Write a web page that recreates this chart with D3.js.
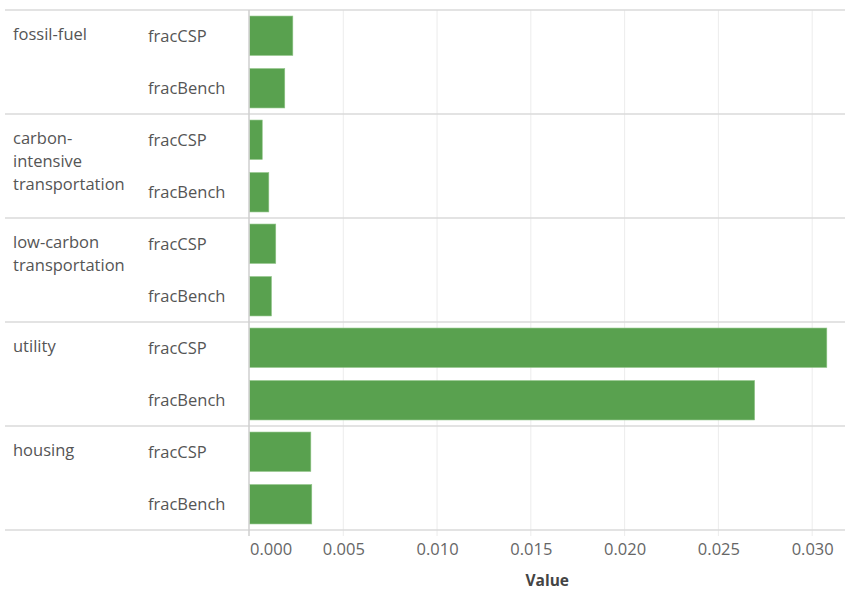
<!DOCTYPE html>
<html><head><meta charset="utf-8">
<script src="https://cdn.jsdelivr.net/npm/d3@7"></script>
<style>body{margin:0;background:#fff}svg{display:block}text{font-family:"Open Sans",sans-serif}</style>
</head><body><svg id="c" width="845" height="590"></svg>
<script>
const groups = ["fossil-fuel","carbon-intensive transportation","low-carbon transportation","utility","housing"];
const groupLines = [["fossil-fuel"],["carbon-","intensive","transportation"],["low-carbon","transportation"],["utility"],["housing"]];
const measures = ["fracCSP","fracBench"];
const fracCSP = [0.00231,0.00068,0.00140,0.03078,0.00327];
const fracBench = [0.00188,0.00103,0.00117,0.02693,0.00332];
const tickValues = [0,0.005,0.010,0.015,0.020,0.025,0.030];

(function(){
const svg = d3.select("#c");
const x0 = 249.5, x1 = 845, topY = 10, rowH = 104;
const x = d3.scaleLinear().domain([0,0.03175]).range([x0,x1]);
const rowScale = d3.scaleBand().domain(groups).range([topY, topY+rowH*groups.length]);
const y = d3.scaleBand().domain(measures).range([0,rowH]).paddingInner(0.25).paddingOuter(0.115);
const vals = {fracCSP, fracBench};

const gridTop = topY, gridBot = topY + rowH*groups.length;
svg.append("g").selectAll("line").data(tickValues.slice(1)).join("line")
  .attr("x1",d=>x(d)).attr("x2",d=>x(d)).attr("y1",gridTop).attr("y2",gridBot+6)
  .attr("stroke","#ececec").attr("stroke-width",1);

groups.forEach((g,i)=>{
  const gy = rowScale(g);
  const row = svg.append("g").attr("transform",`translate(0,${gy})`);
  row.selectAll("rect").data(measures).join("rect")
    .attr("x",x(0)).attr("y",m=>y(m)).attr("height",y.bandwidth())
    .attr("width",m=>x(vals[m][i])-x(0))
    .attr("fill","#59a14f").attr("stroke","#8fc487").attr("stroke-width",0.6);
  row.selectAll("text.m").data(measures).join("text").attr("class","m")
    .attr("x",148).attr("y",m=>y(m)+y.bandwidth()/2+6)
    .attr("font-size",16.5).attr("fill","#555").text(m=>m);
  row.append("text").attr("x",13).attr("y",30)
    .attr("font-size",16.5).attr("fill","#555")
    .selectAll("tspan").data(groupLines[i]).join("tspan")
    .attr("x",13).attr("dy",(d,j)=>j===0?0:23).text(d=>d);
});

svg.append("g").selectAll("line").data(d3.range(groups.length+1)).join("line")
  .attr("x1",5).attr("x2",845).attr("y1",d=>topY+d*rowH).attr("y2",d=>topY+d*rowH)
  .attr("stroke","#dadada").attr("stroke-width",1.5);

svg.append("line").attr("x1",x0-0.5).attr("x2",x0-0.5).attr("y1",topY).attr("y2",gridBot+6)
  .attr("stroke","#cfcfcf").attr("stroke-width",1.5);

const axis = d3.axisBottom(x).tickValues(tickValues).tickFormat(d3.format(".3f")).tickSize(0).tickPadding(0);
const ag = svg.append("g").attr("transform",`translate(0,${gridBot})`).call(axis);
ag.select(".domain").remove();
ag.selectAll("text").attr("y",25).attr("dy",0).attr("font-size",16.5).attr("fill","#666")
  .attr("font-family","'Open Sans',sans-serif")
  .attr("text-anchor",(d,i)=>i===0?"start":"middle");
svg.append("text").attr("x",(x0+x1)/2).attr("y",586).attr("text-anchor","middle")
  .attr("font-size",15.5).attr("font-weight","bold").attr("fill","#444").text("Value");
})();
</script></body></html>
